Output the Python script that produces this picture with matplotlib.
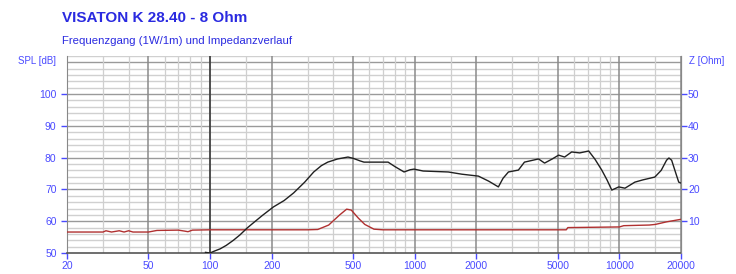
import matplotlib
matplotlib.use("Agg")
import matplotlib.pyplot as plt
import numpy as np

plt.rcParams['font.family'] = ['Liberation Sans', 'DejaVu Sans']

title = "VISATON K 28.40 - 8 Ohm"
subtitle = "Frequenzgang (1W/1m) und Impedanzverlauf"

spl_freq = [95, 100, 105, 112, 120, 130, 140, 152, 165, 180, 204, 230, 256, 290, 321,
            350, 376, 420, 472, 500, 540, 565, 650, 741, 800, 887, 950, 993, 1100, 1458,
            1700, 2047, 2300, 2563, 2700, 2870, 3210, 3437, 4027, 4310, 4700, 5046, 5400,
            5845, 6400, 7079, 7600, 8200, 8700, 9180, 9930, 10650, 11900, 13000, 14900,
            16000, 17000, 17460, 18000, 19000, 19500, 20000]
spl_db = [50.2, 50.0, 50.6, 51.3, 52.4, 54.0, 55.7, 57.9, 59.8, 61.8, 64.5, 66.5, 68.9,
          72.3, 75.5, 77.5, 78.6, 79.6, 80.2, 79.8, 79.0, 78.6, 78.6, 78.6, 77.2, 75.5,
          76.2, 76.4, 75.8, 75.5, 74.8, 74.2, 72.6, 70.8, 73.5, 75.5, 76.1, 78.6, 79.6,
          78.3, 79.6, 80.8, 80.2, 81.8, 81.5, 82.1, 79.5, 76.1, 73.0, 69.8, 70.8, 70.4,
          72.3, 73.0, 73.9, 76.0, 79.2, 79.9, 79.2, 74.5, 72.3, 72.0]

z_freq = [20, 30, 31, 33, 36, 38, 40, 42, 50, 55, 70, 75, 78, 82, 100, 300, 336, 380,
          430, 465, 490, 530, 570, 632, 700, 5500, 5600, 10000, 10500, 14000, 15000,
          17000, 20000]
z_ohm = [6.6, 6.6, 7.0, 6.6, 7.0, 6.6, 7.0, 6.6, 6.6, 7.1, 7.2, 6.9, 6.7, 7.2, 7.3, 7.3,
         7.4, 8.8, 12.0, 13.8, 13.5, 11.0, 9.0, 7.5, 7.3, 7.3, 8.0, 8.2, 8.6, 8.8, 9.0,
         9.8, 10.6]

spl_ticks = [50, 60, 70, 80, 90, 100]
z_ticks = [10, 20, 30, 40, 50]
x_ticks = [20, 50, 100, 200, 500, 1000, 2000, 5000, 10000, 20000]

blue = '#4a4aff'
tblue = '#2a2ae0'

fig = plt.figure(figsize=(7.36, 2.74), dpi=100)
ax = fig.add_axes([67/736, 1-253/274, (681-67)/736, (253-56)/274])
ax.set_xscale('log')
ax.set_xlim(20, 20000)
ax.set_ylim(50, 112)

# grid
for y in range(52, 113, 2):
    c = '#9a9a9a' if y % 10 == 0 else '#d0d0d0'
    ax.axhline(y, color=c, lw=1.0, zorder=1)
for dec in [10, 100, 1000, 10000]:
    for m in [1, 1.5, 2, 3, 4, 5, 6, 7, 8, 9]:
        f = m * dec
        if f < 20 or f > 20000:
            continue
        if f == 100:
            c, lw, z = '#404040', 1.3, 2
        elif m in (1, 2, 5):
            c, lw, z = '#8a8a8a', 1.1, 1.5
        else:
            c, lw, z = '#cfcfcf', 0.9, 1
        ax.axvline(f, color=c, lw=lw, zorder=z)

ax.plot(z_freq, np.array(z_ohm) + 50, color='#b03030', lw=1.0, zorder=3)
ax.plot(spl_freq, spl_db, color='#202020', lw=1.0, zorder=4)

ax.set_xticks(x_ticks)
ax.set_xticklabels([str(t) for t in x_ticks])
ax.xaxis.set_minor_locator(matplotlib.ticker.NullLocator())
ax.set_yticks(spl_ticks)
ax.tick_params(axis='both', colors=blue, labelsize=7.5, length=4, width=1.0)
ax.tick_params(axis='x', pad=2)
for lab in ax.get_xticklabels() + ax.get_yticklabels():
    lab.set_color(blue)

ax.spines['top'].set_visible(False)
ax.spines['left'].set_color('#888888')
ax.spines['right'].set_color('#888888')
ax.spines['bottom'].set_color('#555555')
ax.spines['bottom'].set_linewidth(1.2)

ax2 = ax.twinx()
ax2.set_ylim(0, 62)
ax2.set_yticks(z_ticks)
ax2.tick_params(axis='y', colors=blue, labelsize=7.5, length=4, width=1.0, pad=1)
for lab in ax2.get_yticklabels():
    lab.set_color(blue)
for s in ['top', 'left', 'bottom']:
    ax2.spines[s].set_visible(False)
ax2.spines['right'].set_color('#888888')

fig.text(62/736, 1-18/274, title, color=tblue, fontsize=11, fontweight='bold', va='center', ha='left')
fig.text(62/736, 1-41/274, subtitle, color=tblue, fontsize=8.2, va='center', ha='left')
fig.text(56/736, 1-61/274, "SPL [dB]", color=blue, fontsize=7, va='center', ha='right')
fig.text(689/736, 1-61/274, "Z [Ohm]", color=blue, fontsize=7, va='center', ha='left')

fig.savefig('out.png', dpi=100)
